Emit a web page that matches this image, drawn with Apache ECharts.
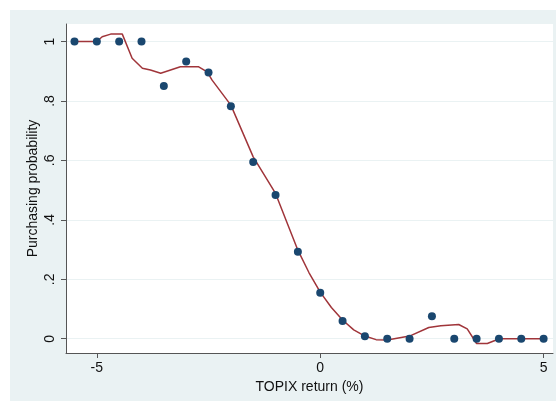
<!DOCTYPE html>
<html>
<head>
<meta charset="utf-8">
<script src="https://cdn.jsdelivr.net/npm/echarts@6/dist/echarts.min.js"></script>
<style>
html,body{margin:0;padding:0;background:#fff;}
#c{width:556px;height:401px;}
</style>
</head>
<body>
<div id="c"></div>
<script>
// Observed points (TOPIX return %, purchasing probability)
const pointX = [-5.5,-5,-4.5,-4,-3.5,-3,-2.5,-2,-1.5,-1,-0.5,0,0.5,1,1.5,2,2.5,3,3.5,4,4.5,5];
const pointY = [1,1,1,1,0.85,0.933,0.896,0.782,0.595,0.484,0.293,0.155,0.06,0.008,0,0,0.076,0,0,0,0,0];
// Fitted (smoothed) curve
const fitX = [-5.5,-5,-4.88,-4.69,-4.43,-4.21,-3.98,-3.8,-3.57,-3.35,-3.13,-2.72,-2.53,-2.42,-2,-1.5,-1,-0.5,-0.25,0,0.25,0.5,0.75,1,1.25,1.5,2,2.43,2.7,3.1,3.29,3.5,3.74,4.01,4.5,5];
const fitY = [1,1,1.016,1.025,1.025,0.944,0.910,0.904,0.893,0.904,0.915,0.915,0.898,0.870,0.786,0.612,0.489,0.298,0.222,0.157,0.105,0.063,0.030,0.009,-0.003,-0.004,0.009,0.038,0.044,0.048,0.033,-0.016,-0.016,0,0,0];
const xTicks = [-5,0,5];
const yTicks = [0,0.2,0.4,0.6,0.8,1];
const xTitle = 'TOPIX return (%)';
const yTitle = 'Purchasing probability';

const chart = echarts.init(document.getElementById('c'), null, {renderer:'canvas'});
const fmtY = v => {
  if (Math.abs(v) < 1e-9) return '0';
  if (Math.abs(v-1) < 1e-9) return '1';
  return String(Math.round(v*10)/10).replace('0.', '.');
};
const font = 'Liberation Sans, Arial, sans-serif';
chart.setOption({
  animation:false,
  backgroundColor:'transparent',
  graphic:[{type:'rect', z:-10, silent:true, shape:{x:10,y:10,width:546,height:391}, style:{fill:'#eaf2f3'}}],
  grid:{left:66,right:3,top:24,bottom:48,show:true,backgroundColor:'#ffffff',borderWidth:0},
  xAxis:{
    type:'value', min:-5.69, max:5.21,
    name:xTitle, nameLocation:'middle', nameGap:23,
    nameTextStyle:{fontFamily:font,fontSize:14,color:'#111',verticalAlign:'top'},
    axisLine:{show:true,onZero:false,lineStyle:{color:'#555',width:1}},
    axisTick:{show:true,length:5,customValues:xTicks,lineStyle:{color:'#555'}},
    axisLabel:{customValues:xTicks,fontFamily:font,fontSize:14,color:'#111',margin:8,formatter:v=>String(v)},
    splitLine:{show:false}
  },
  yAxis:{
    type:'value', min:-0.048, max:1.059,
    name:yTitle, nameLocation:'middle', nameGap:26, nameRotate:90, nameMoveOverlap:false,
    nameTextStyle:{fontFamily:font,fontSize:14,color:'#111'},
    axisLine:{show:true,onZero:false,lineStyle:{color:'#555',width:1}},
    axisTick:{show:true,length:5,customValues:yTicks,lineStyle:{color:'#555'}},
    axisLabel:{customValues:yTicks,rotate:90,fontFamily:font,fontSize:14,color:'#111',margin:9,formatter:fmtY},
    splitLine:{show:true,lineStyle:{color:'#eaf2f3',width:1}}
  },
  series:[
    {type:'line', data:fitX.map((x,i)=>[x,fitY[i]]), showSymbol:false, symbol:'none',
     lineStyle:{color:'#a0353a',width:1.5}, z:2},
    {type:'scatter', data:pointX.map((x,i)=>[x,pointY[i]]), symbolSize:8,
     itemStyle:{color:'#1a476f',opacity:1}, z:3}
  ]
});
</script>
</body>
</html>
